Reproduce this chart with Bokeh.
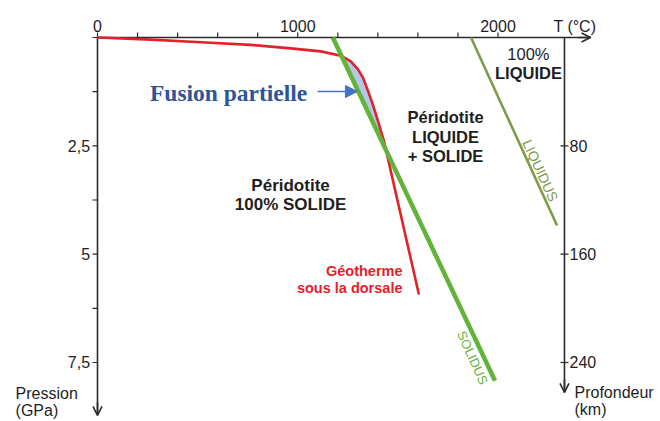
from bokeh.plotting import figure
from bokeh.models import Range1d, Arrow, OpenHead, NormalHead
from bokeh.core.properties import value
from bokeh.embed import file_html
from bokeh.resources import INLINE

# ---------------- data ----------------
temp_ticks = [0, 1000, 2000]
temp_labels = ["0", "1000", "2000"]
temp_minor = [0, 200, 400, 600, 800, 1000, 1200, 1400, 1600, 1800, 2000]
pres_ticks = [2.5, 5, 7.5]
pres_labels = ["2,5", "5", "7,5"]
pres_minor = [0, 1.25, 2.5, 3.75, 5, 6.25, 7.5]
depth_ticks = [80, 160, 240]
depth_labels = ["80", "160", "240"]
KM_PER_GPA = 32.0

# geotherm under the ridge (T in °C, P in GPa)
geo_T = [0, 265, 515, 765, 965, 1115, 1215, 1265, 1300, 1325, 1350, 1375, 1400, 1430, 1605]
geo_P = [0, 0.05, 0.11, 0.17, 0.25, 0.32, 0.42, 0.55, 0.73, 0.92, 1.22, 1.55, 1.92, 2.38, 5.93]

# solidus and liquidus of peridotite
sol_T = [1175, 1985]
sol_P = [0.0, 7.92]
liq_T = [1865, 2295]
liq_P = [0.0, 4.34]

# partial melting zone (between geotherm and solidus)
fus_T = [1219, 1265, 1300, 1325, 1350, 1375, 1400, 1430, 1441]
fus_P = [0.43, 0.55, 0.73, 0.92, 1.22, 1.55, 1.92, 2.38, 2.60]

# ---------------- figure ----------------
T_AXIS_END = 2462      # end of temperature axis arrow
P_AXIS_END = 8.72      # end of pressure axis arrow
DEPTH_AXIS_T = 2332    # position of depth axis
DEPTH_AXIS_END = 8.19

FONT = "Liberation Sans"
AX = "#2b2b2b"
TXT = "#1e1e1e"
RED = "#e3212a"
GREEN = "#63b33b"
OLIVE = "#7f9b4a"

p = figure(width=660, height=421,
           x_range=Range1d(-484.4, 2811.5), y_range=Range1d(8.862, -0.854),
           x_axis_location=None, y_axis_location=None,
           output_backend="svg", toolbar_location=None, min_border=0)
p.outline_line_color = None
p.xgrid.visible = False
p.ygrid.visible = False
p.background_fill_color = "white"
p.border_fill_color = "white"

# ---- temperature axis (top) ----
p.line([0, T_AXIS_END], [0, 0], line_color=AX, line_width=1.6)
p.segment(x0=temp_minor, y0=[0] * len(temp_minor), x1=temp_minor, y1=[-0.115] * len(temp_minor),
          line_color=AX, line_width=1.2)
p.text(x=temp_ticks, y=[-0.26] * len(temp_ticks), text=temp_labels,
       text_font=value(FONT), text_font_size="16px", text_color=TXT,
       text_align="center", text_baseline="alphabetic")
p.add_layout(Arrow(end=OpenHead(size=9, line_color=AX, line_width=1.6),
                   x_start=T_AXIS_END - 60, y_start=0, x_end=T_AXIS_END, y_end=0,
                   line_color=AX, line_width=1.6))
p.text(x=[2277], y=[-0.25], text=["T (°C)"], text_font=value(FONT), text_font_size="16px",
       text_color=TXT, text_align="left", text_baseline="alphabetic")

# ---- pressure axis (left) ----
p.line([0, 0], [0, P_AXIS_END], line_color=AX, line_width=1.6)
p.segment(x0=[0] * len(pres_minor), y0=pres_minor, x1=[-25] * len(pres_minor), y1=pres_minor,
          line_color=AX, line_width=1.2)
p.text(x=[-37] * len(pres_ticks), y=pres_ticks, text=pres_labels,
       text_font=value(FONT), text_font_size="16px", text_color=TXT,
       text_align="right", text_baseline="middle")
p.add_layout(Arrow(end=OpenHead(size=9, line_color=AX, line_width=1.6),
                   x_start=0, y_start=P_AXIS_END - 0.3, x_end=0, y_end=P_AXIS_END,
                   line_color=AX, line_width=1.6))
p.text(x=[-409, -409], y=[8.22, 8.61], text=["Pression", "(GPa)"],
       text_font=value(FONT), text_font_size="16px", text_color=TXT,
       text_align="left", text_baseline="alphabetic")

# ---- depth axis (right) ----
depth_P = [d / KM_PER_GPA for d in depth_ticks]
p.line([DEPTH_AXIS_T, DEPTH_AXIS_T], [0, DEPTH_AXIS_END], line_color=AX, line_width=1.6)
p.scatter([DEPTH_AXIS_T] * len(depth_P), depth_P, marker="dash", size=8,
          line_color=AX, line_width=1.2)
p.text(x=[DEPTH_AXIS_T] * len(depth_P), y=depth_P, text=depth_labels, x_offset=5,
       text_font=value(FONT), text_font_size="16px", text_color=TXT,
       text_align="left", text_baseline="middle")
p.add_layout(Arrow(end=OpenHead(size=9, line_color=AX, line_width=1.6),
                   x_start=DEPTH_AXIS_T, y_start=DEPTH_AXIS_END - 0.3,
                   x_end=DEPTH_AXIS_T, y_end=DEPTH_AXIS_END,
                   line_color=AX, line_width=1.6))
p.text(x=[2382, 2382], y=[8.20, 8.59], text=["Profondeur", "(km)"],
       text_font=value(FONT), text_font_size="16px", text_color=TXT,
       text_align="left", text_baseline="alphabetic")

# ---- curves ----
p.patch(fus_T, fus_P, fill_color="#b4c7e7", line_color=None)
p.line(geo_T, geo_P, line_color=RED, line_width=2.6, line_join="round")
p.line(liq_T, liq_P, line_color=OLIVE, line_width=2.6)
p.line(sol_T, sol_P, line_color=GREEN, line_width=4.5)

# ---- region texts ----
p.text(x=[964, 964], y=[3.42, 3.86], text=["Péridotite", "100% SOLIDE"],
       text_font=value(FONT), text_font_style="bold", text_font_size="17px",
       text_color=TXT, text_align="center", text_baseline="alphabetic")
p.text(x=[1738, 1738, 1738], y=[1.84, 2.30, 2.73], text=["Péridotite", "LIQUIDE", "+ SOLIDE"],
       text_font=value(FONT), text_font_style="bold", text_font_size="16.5px",
       text_color=TXT, text_align="center", text_baseline="alphabetic")
p.text(x=[2152], y=[0.37], text=["100%"],
       text_font=value(FONT), text_font_size="16.5px",
       text_color=TXT, text_align="center", text_baseline="alphabetic")
p.text(x=[2152], y=[0.81], text=["LIQUIDE"],
       text_font=value(FONT), text_font_style="bold", text_font_size="16.5px",
       text_color=TXT, text_align="center", text_baseline="alphabetic")
p.text(x=[1523, 1523], y=[5.40, 5.79], text=["Géotherme", "sous la dorsale"],
       text_font=value(FONT), text_font_style="bold", text_font_size="14.5px",
       text_color=RED, text_align="right", text_baseline="alphabetic")

# rotated curve names
p.text(x=[1873], y=[7.39], text=["SOLIDUS"], angle=-1.15,
       text_font=value(FONT), text_font_size="13px", text_color=GREEN,
       text_align="center", text_baseline="middle")
p.text(x=[2212], y=[3.07], text=["LIQUIDUS"], angle=-1.14,
       text_font=value(FONT), text_font_size="14px", text_color=OLIVE,
       text_align="center", text_baseline="middle")

# partial melting label and arrow
p.text(x=[262], y=[1.29], text=["Fusion partielle"],
       text_font=value("Liberation Serif"), text_font_style="bold", text_font_size="23.5px",
       text_color="#2f5597", text_align="left", text_baseline="alphabetic")
p.add_layout(Arrow(end=NormalHead(size=12, fill_color="#4472c4", line_color="#4472c4"),
                   x_start=1099, y_start=1.246, x_end=1298, y_end=1.246,
                   line_color="#4472c4", line_width=1.5))

open("out.html", "w").write(file_html(p, INLINE))
